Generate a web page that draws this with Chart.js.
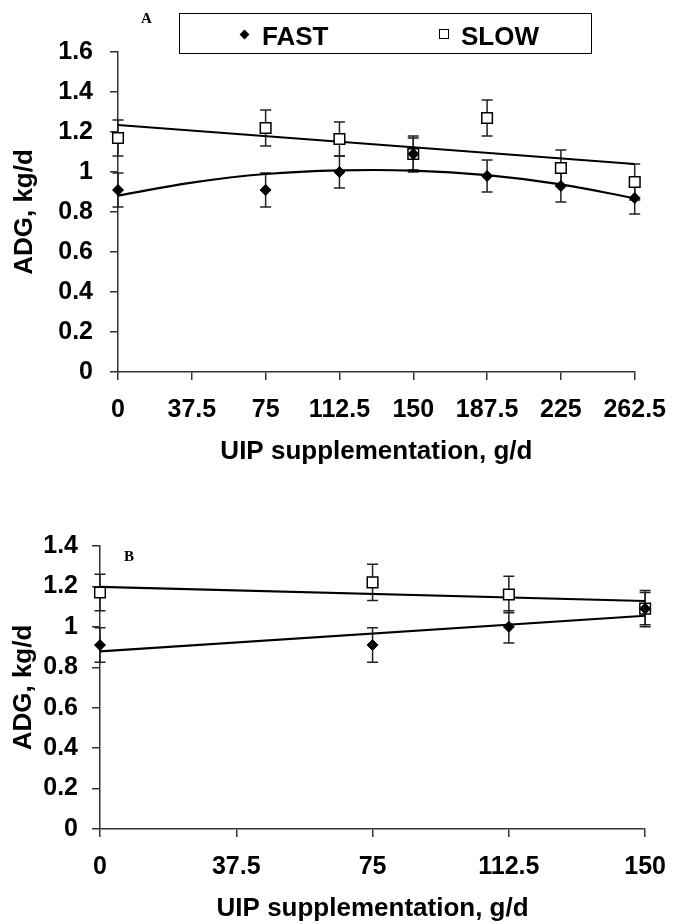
<!DOCTYPE html>
<html>
<head>
<meta charset="utf-8">
<script src="https://cdn.jsdelivr.net/npm/chart.js@4.4.1/dist/chart.umd.min.js"></script>
<style>
  html, body { margin:0; padding:0; background:#fff; }
  body { width:681px; height:924px; position:relative; overflow:hidden; }
  canvas { position:absolute; left:0; }
  .lbl { position:absolute; font-family:'Liberation Serif','Times New Roman',serif; font-weight:bold; font-size:15px; color:#000; line-height:1; }
  #legend { position:absolute; left:179px; top:13px; width:411px; height:39px; border:1.5px solid #000; font-family:'Liberation Sans',Arial,sans-serif; font-weight:bold; font-size:26px; color:#000; }
  #legend span { position:absolute; line-height:1; }
  .dia { width:7px; height:7px; background:#000; transform:rotate(45deg); }
  .sq { width:8px; height:8px; background:#fff; border:1.5px solid #000; }
</style>
</head>
<body>
<canvas id="cA" width="681" height="480" style="top:0"></canvas>
<canvas id="cB" width="681" height="444" style="top:480px"></canvas>
<div id="legend">
  <span class="dia" style="left:61px; top:17px"></span>
  <span style="left:82px; top:9px">FAST</span>
  <span class="sq" style="left:259px; top:15px"></span>
  <span style="left:281px; top:9px">SLOW</span>
</div>
<div class="lbl" style="left:141px; top:11px">A</div>
<div class="lbl" style="left:124px; top:549px">B</div>
<script>
// ---------- Panel A data ----------
const xA = [0, 75, 112.5, 150, 187.5, 225, 262.5];
const fastA = [0.91, 0.91, 1.00, 1.09, 0.98, 0.93, 0.87];
const fastErrA = [0.085, 0.085, 0.08, 0.08, 0.08, 0.08, 0.08];
const slowA = [1.17, 1.22, 1.165, 1.09, 1.27, 1.02, 0.95];
const slowErrA = [0.09, 0.09, 0.085, 0.09, 0.09, 0.09, 0.09];
const fastTrendXA = [0, 37.5, 75, 112.5, 150, 187.5, 225, 262.5];
const fastTrendA = [0.882, 0.947, 0.99, 1.008, 1.007, 0.984, 0.938, 0.868];
const slowTrendXA = [0, 262.5];
const slowTrendA = [1.235, 1.04];
const xTicksA = [0, 37.5, 75, 112.5, 150, 187.5, 225, 262.5];
const xTickLabelsA = ['0', '37.5', '75', '112.5', '150', '187.5', '225', '262.5'];
const yTicksA = [0, 0.2, 0.4, 0.6, 0.8, 1, 1.2, 1.4, 1.6];
const yTickLabelsA = ['0', '0.2', '0.4', '0.6', '0.8', '1', '1.2', '1.4', '1.6'];

// ---------- Panel B data ----------
const xB = [0, 75, 112.5, 150];
const fastB = [0.91, 0.91, 1.00, 1.09];
const fastErrB = [0.085, 0.085, 0.08, 0.08];
const slowB = [1.17, 1.22, 1.16, 1.09];
const slowErrB = [0.09, 0.09, 0.09, 0.09];
const fastTrendXB = [0, 150];
const fastTrendB = [0.879, 1.055];
const slowTrendXB = [0, 150];
const slowTrendB = [1.198, 1.128];
const xTicksB = [0, 37.5, 75, 112.5, 150];
const xTickLabelsB = ['0', '37.5', '75', '112.5', '150'];
const yTicksB = [0, 0.2, 0.4, 0.6, 0.8, 1, 1.2, 1.4];
const yTickLabelsB = ['0', '0.2', '0.4', '0.6', '0.8', '1', '1.2', '1.4'];

const xTitle = 'UIP supplementation, g/d';
const yTitle = 'ADG, kg/d';
const seriesNames = ['FAST', 'SLOW'];

const FONT = "'Liberation Sans', Arial, sans-serif";
const AXIS_COLOR = '#333';

const pts = (xs, ys) => xs.map((x, i) => ({ x: x, y: ys[i] }));

const errorBars = {
  id: 'errorBars',
  beforeDatasetsDraw(chart) {
    const ctx = chart.ctx, xs = chart.scales.x, ys = chart.scales.y;
    ctx.save();
    ctx.strokeStyle = '#222';
    ctx.lineWidth = 1.5;
    chart.data.datasets.forEach(ds => {
      if (!ds.errors) return;
      ds.data.forEach((p, i) => {
        const e = ds.errors[i];
        const px = xs.getPixelForValue(p.x);
        const top = ys.getPixelForValue(p.y + e);
        const bot = ys.getPixelForValue(p.y - e);
        ctx.beginPath();
        ctx.moveTo(px, top); ctx.lineTo(px, bot);
        ctx.moveTo(px - 5.5, top); ctx.lineTo(px + 5.5, top);
        ctx.moveTo(px - 5.5, bot); ctx.lineTo(px + 5.5, bot);
        ctx.stroke();
      });
    });
    ctx.restore();
  }
};

function build(id, c) {
  return new Chart(document.getElementById(id), {
    type: 'scatter',
    data: {
      datasets: [
        { label: seriesNames[0], data: pts(c.x, c.fast), errors: c.fastErr, pointStyle: 'rectRot', pointRadius: 5.5,
          backgroundColor: '#000', borderColor: '#000', borderWidth: 1, showLine: false, clip: false },
        { label: seriesNames[1], data: pts(c.x, c.slow), errors: c.slowErr, pointStyle: 'rect', pointRadius: 7.5,
          backgroundColor: '#fff', borderColor: '#000', borderWidth: 1.5, showLine: false, clip: false },
        { label: seriesNames[0] + ' trend', type: 'line', data: pts(c.fastTX, c.fastT), borderColor: '#000', borderWidth: 2.2,
          pointRadius: 0, tension: c.fastTension, fill: false, clip: false },
        { label: seriesNames[1] + ' trend', type: 'line', data: pts(c.slowTX, c.slowT), borderColor: '#000', borderWidth: 2.2,
          pointRadius: 0, tension: 0, fill: false, clip: false }
      ]
    },
    options: {
      responsive: false,
      animation: false,
      events: [],
      layout: { padding: c.padding },
      plugins: { legend: { display: false }, tooltip: { enabled: false } },
      scales: {
        x: {
          type: 'linear', min: 0, max: c.xMax,
          afterBuildTicks: s => { s.ticks = c.xTicks.map(v => ({ value: v })); },
          afterFit: s => { s.height = 95; },
          ticks: { callback: (v, i) => c.xLabels[i], font: { family: FONT, size: 25, weight: 'bold' }, color: '#000',
                   padding: 15, maxRotation: 0, autoSkip: false },
          grid: { display: true, drawOnChartArea: false, drawTicks: true, tickLength: 8, color: AXIS_COLOR, lineWidth: 1.5 },
          border: { display: true, color: AXIS_COLOR, width: 1.5 },
          title: { display: true, text: xTitle, font: { family: FONT, size: 26, weight: 'bold' }, color: '#000', padding: { top: 0, bottom: 0 } }
        },
        y: {
          type: 'linear', min: 0, max: c.yMax,
          afterBuildTicks: s => { s.ticks = c.yTicks.map(v => ({ value: v })); },
          afterFit: s => { s.width = c.yWidth; },
          ticks: { callback: (v, i) => c.yLabels[i], font: { family: FONT, size: 25, weight: 'bold' }, color: '#000',
                   padding: c.yPad, autoSkip: false },
          grid: { display: true, drawOnChartArea: false, drawTicks: true, tickLength: 8, color: AXIS_COLOR, lineWidth: 1.5 },
          border: { display: true, color: AXIS_COLOR, width: 1.5 },
          title: { display: true, text: yTitle, font: { family: FONT, size: 26, weight: 'bold' }, color: '#000', padding: { top: c.yTitlePad, bottom: 0 } }
        }
      }
    },
    plugins: [errorBars]
  });
}

build('cA', {
  x: xA, fast: fastA, fastErr: fastErrA, slow: slowA, slowErr: slowErrA,
  fastTX: fastTrendXA, fastT: fastTrendA, slowTX: slowTrendXA, slowT: slowTrendA, fastTension: 0.4,
  xMax: 262.5, yMax: 1.6, xTicks: xTicksA, xLabels: xTickLabelsA, yTicks: yTicksA, yLabels: yTickLabelsA,
  padding: { left: 0, right: 44, top: 52, bottom: 13 }, yWidth: 118, yPad: 17, yTitlePad: 9
});

build('cB', {
  x: xB, fast: fastB, fastErr: fastErrB, slow: slowB, slowErr: slowErrB,
  fastTX: fastTrendXB, fastT: fastTrendB, slowTX: slowTrendXB, slowT: slowTrendB, fastTension: 0,
  xMax: 150, yMax: 1.4, xTicks: xTicksB, xLabels: xTickLabelsB, yTicks: yTicksB, yLabels: yTickLabelsB,
  padding: { left: 0, right: 21, top: 66, bottom: 0 }, yWidth: 100, yPad: 14, yTitlePad: 8
});
</script>
</body>
</html>
